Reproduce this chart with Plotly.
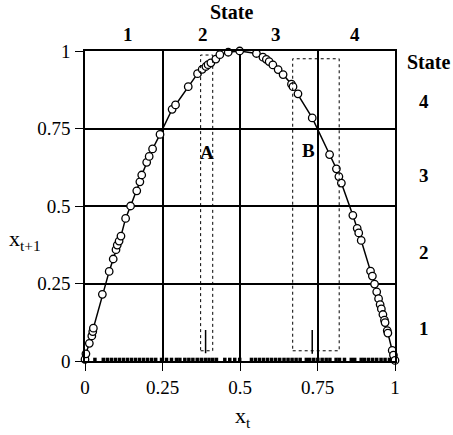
import plotly.graph_objects as go

# circles on the map (x_t, x_t+1)
circle_x = [0.000, 0.003, 0.014, 0.022, 0.025, 0.027, 0.056, 0.078, 0.091, 0.100,
            0.104, 0.110, 0.116, 0.131, 0.147, 0.167, 0.177, 0.183, 0.199, 0.207,
            0.218, 0.242, 0.281, 0.292, 0.333, 0.363, 0.378, 0.390, 0.397, 0.406,
            0.422, 0.435, 0.462, 0.499, 0.553, 0.574, 0.585, 0.594, 0.606, 0.623,
            0.639, 0.666, 0.671, 0.687, 0.733, 0.789, 0.811, 0.819, 0.827, 0.864,
            0.878, 0.883, 0.891, 0.921, 0.927, 0.934, 0.941, 0.947, 0.952, 0.956,
            0.961, 0.966, 0.968, 0.975, 0.977, 0.991, 0.995, 1.000]
circle_y = [0.005, 0.023, 0.057, 0.081, 0.095, 0.106, 0.215, 0.289, 0.329, 0.359,
            0.374, 0.387, 0.403, 0.460, 0.500, 0.549, 0.578, 0.600, 0.641, 0.660,
            0.684, 0.731, 0.812, 0.826, 0.885, 0.927, 0.941, 0.950, 0.956, 0.962,
            0.974, 0.988, 0.996, 1.000, 0.992, 0.980, 0.973, 0.966, 0.955, 0.940,
            0.924, 0.893, 0.885, 0.862, 0.784, 0.666, 0.620, 0.595, 0.574, 0.470,
            0.428, 0.413, 0.389, 0.290, 0.274, 0.248, 0.223, 0.201, 0.182, 0.168,
            0.150, 0.132, 0.124, 0.098, 0.090, 0.034, 0.019, 0.002]

# rug of x_t values along the bottom axis
rug_x = [0.032, 0.059, 0.072, 0.085, 0.098, 0.111, 0.124, 0.137, 0.150, 0.163,
         0.176, 0.189, 0.202, 0.215, 0.228, 0.247, 0.263, 0.279, 0.295, 0.306,
         0.322, 0.335, 0.348, 0.362, 0.375, 0.388, 0.400, 0.412, 0.424, 0.451,
         0.467, 0.483, 0.499, 0.537, 0.550, 0.563, 0.576, 0.589, 0.602, 0.615,
         0.628, 0.642, 0.655, 0.668, 0.681, 0.694, 0.714, 0.725, 0.738, 0.751,
         0.765, 0.778, 0.790, 0.810, 0.821, 0.837, 0.859, 0.870, 0.891, 0.902,
         0.915, 0.928, 0.941, 0.955, 0.968, 0.982]
rug_level = 0.005

# dotted windows A and B: (x0, x1, y0, y1)
window_names = ["A", "B"]
window_x0 = [0.373, 0.670]
window_x1 = [0.412, 0.820]
window_y0 = [0.033, 0.033]
window_y1 = [0.987, 0.975]
window_label_x = [0.393, 0.721]
window_label_y = [0.674, 0.680]

# short vertical markers inside the windows
mark_x = [0.389, 0.733]
mark_y0 = [0.025, 0.023]
mark_y1 = [0.100, 0.100]

tick_vals = [0, 0.25, 0.5, 0.75, 1]
tick_text = ["0", "0.25", "0.5", "0.75", "1"]

top_state_labels = ["1", "2", "3", "4"]
top_state_x = [0.1375, 0.381, 0.617, 0.870]
right_state_labels = ["4", "3", "2", "1"]
right_state_y = [0.836, 0.600, 0.350, 0.106]

FONT = "Liberation Serif"

fig = go.Figure()

fig.add_trace(go.Scatter(
    x=rug_x, y=[rug_level] * len(rug_x), mode="markers",
    marker=dict(symbol="square", size=3.5, color="black"),
    hoverinfo="skip", cliponaxis=False))

fig.add_trace(go.Scatter(
    x=circle_x, y=circle_y, mode="lines+markers",
    line=dict(color="black", width=1.5),
    marker=dict(symbol="circle", size=7.5, color="white",
                line=dict(color="black", width=1.3)),
    cliponaxis=False))

for i in range(len(window_names)):
    fig.add_shape(type="rect", x0=window_x0[i], x1=window_x1[i],
                  y0=window_y0[i], y1=window_y1[i],
                  line=dict(color="black", width=1, dash="dot"))
    fig.add_shape(type="line", x0=mark_x[i], x1=mark_x[i],
                  y0=mark_y0[i], y1=mark_y1[i],
                  line=dict(color="black", width=1.5))
    fig.add_annotation(x=window_label_x[i], y=window_label_y[i],
                       text="<b>%s</b>" % window_names[i], showarrow=False,
                       xanchor="center", yanchor="middle",
                       font=dict(family=FONT, size=19, color="black"))


def label(x, y, text, size):
    fig.add_annotation(xref="paper", yref="paper", x=x, y=y, text=text,
                       showarrow=False, xanchor="center", yanchor="middle",
                       font=dict(family=FONT, size=size, color="black"))


label(0.474, 1.126, "<b>State</b>", 20)
for lab, px in zip(top_state_labels, top_state_x):
    label(px, 1.052, "<b>%s</b>" % lab, 19)
label(1.107, 0.965, "<b>State</b>", 20)
for lab, py in zip(right_state_labels, right_state_y):
    label(1.092, py, "<b>%s</b>" % lab, 19)

label(-0.195, 0.39, "x<sub>t+1</sub>", 22)
label(0.51, -0.18, "x<sub>t</sub>", 22)

axis_common = dict(
    range=[0, 1], tickvals=tick_vals, ticktext=tick_text,
    showgrid=True, gridcolor="black", gridwidth=1.5,
    showline=True, linecolor="black", linewidth=1.5, mirror=True,
    zeroline=False, ticks="outside", ticklen=8, tickwidth=1.3,
    tickcolor="black", tickfont=dict(family=FONT, size=19, color="black"),
    fixedrange=True)

fig.update_layout(
    width=453, height=435,
    margin=dict(l=85, r=57.5, t=51, b=74),
    paper_bgcolor="white", plot_bgcolor="white",
    showlegend=False,
    xaxis=dict(axis_common),
    yaxis=dict(axis_common, ticklabelstandoff=1),
)

fig.write_html(
    "out.html",
    config={"displayModeBar": False},
    post_script="document.body.style.margin='0';document.body.style.overflow='hidden';",
)
